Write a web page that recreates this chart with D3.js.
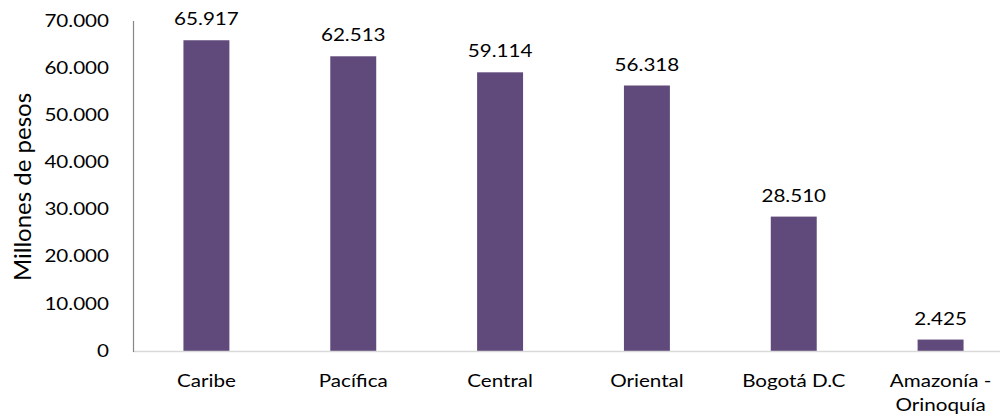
<!DOCTYPE html>
<html><head><meta charset="utf-8">
<script src="https://cdn.jsdelivr.net/npm/d3@7"></script>
<style>html,body{margin:0;padding:0;background:#fff;}svg{display:block;font-family:Lato,"Open Sans",sans-serif;}</style>
</head><body>
<svg id="chart" width="1000" height="416"></svg>
<script>
const categories = ["Caribe", "Pacífica", "Central", "Oriental", "Bogotá D.C", "Amazonía - Orinoquía"];
const categoryLines = [["Caribe"], ["Pacífica"], ["Central"], ["Oriental"], ["Bogotá D.C"], ["Amazonía -", "Orinoquía"]];
const values = [65917, 62513, 59114, 56318, 28510, 2425];
const yTicks = [0, 10000, 20000, 30000, 40000, 50000, 60000, 70000];
const yTitle = "Millones de pesos";

const SX = 1.25; // horizontal stretch of text
const FS = 16.5;
const svg = d3.select("#chart");
const locale = d3.formatLocale({decimal: ",", thousands: ".", grouping: [3], currency: ["$", ""]});
const fmt = locale.format(",d");

const x = d3.scaleBand().domain(categories).range([133, 1014]).paddingInner(0.687).paddingOuter(0.3435);
const y = d3.scaleLinear().domain([0, 70000]).range([351, 21]);

// bars
svg.append("g").selectAll("rect").data(values).join("rect")
  .attr("x", (d, i) => x(categories[i]))
  .attr("width", x.bandwidth())
  .attr("y", d => y(d))
  .attr("height", d => y(0) - y(d))
  .attr("fill", "#604a7b");

// baseline
svg.append("line").attr("x1", 133).attr("x2", 1000).attr("y1", y(0) + 0.5).attr("y2", y(0) + 0.5)
  .attr("stroke", "#d9d9d9").attr("stroke-width", 1.5);
// y axis line
svg.append("line").attr("x1", 133.5).attr("x2", 133.5).attr("y1", y(70000)).attr("y2", y(0) + 1)
  .attr("stroke", "#868686").attr("stroke-width", 1.2);

// y tick labels
svg.append("g").selectAll("text").data(yTicks).join("text")
  .attr("transform", d => `translate(109,${y(d)}) scale(${SX},1)`)
  .attr("text-anchor", "end").attr("dy", "0.35em")
  .attr("font-size", FS).attr("fill", "#000")
  .text(d => fmt(d));

// value labels
svg.append("g").selectAll("text").data(values).join("text")
  .attr("transform", (d, i) => `translate(${x(categories[i]) + x.bandwidth() / 2},${y(d) - 15}) scale(${SX},1)`)
  .attr("text-anchor", "middle")
  .attr("font-size", FS).attr("fill", "#000")
  .text(d => fmt(d));

// category labels
const cg = svg.append("g").selectAll("text").data(categories).join("text")
  .attr("transform", (d, i) => `translate(${x(d) + x.bandwidth() / 2},387) scale(${SX},1)`)
  .attr("text-anchor", "middle")
  .attr("font-size", FS).attr("fill", "#000");
cg.each(function(d, i) {
  d3.select(this).selectAll("tspan").data(categoryLines[i]).join("tspan")
    .attr("x", 0).attr("dy", (t, j) => j === 0 ? 0 : 24).text(t => t);
});

// y title
svg.append("text")
  .attr("transform", `translate(31,187) rotate(-90)`)
  .attr("text-anchor", "middle")
  .attr("font-size", 24).attr("fill", "#000")
  .text(yTitle);
</script>
</body></html>
